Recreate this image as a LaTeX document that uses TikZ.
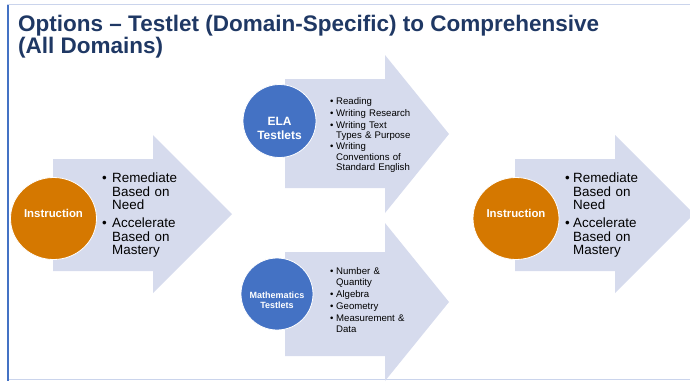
\documentclass[tikz,border=0pt]{standalone}
\usepackage{fontspec}
\setmainfont{Liberation Sans}
\usetikzlibrary{shapes.geometric}
\definecolor{arrowlav}{RGB}{214,219,237}
\definecolor{instrorange}{RGB}{213,120,0}
\definecolor{testblue}{RGB}{68,114,196}
\definecolor{titlenavy}{RGB}{31,56,100}
\definecolor{framelight}{RGB}{202,212,236}
\newlength{\bhang}
\newcommand{\bitem}[1]{\par\hangindent=\bhang\hangafter=1\noindent\makebox[\bhang][l]{\textbullet}#1\par}
\begin{document}
\begin{tikzpicture}[x=1pt,y=-1pt]
    \tikzstyle{arrowbox}=[fill=arrowlav]
    \tikzstyle{instr}=[ellipse,fill=instrorange,draw=white,line width=0.8pt,minimum width=86pt,minimum height=82pt,inner sep=0pt]
    \tikzstyle{testlet}=[circle,fill=testblue,draw=white,line width=0.8pt,minimum size=73pt,inner sep=0pt]
    \tikzstyle{inlabel}=[text=white,font=\bfseries\fontsize{11.4}{13}\selectfont,align=center]
    \tikzstyle{bigtext}=[anchor=north west,inner sep=0pt,text width=95pt,align=left,font=\fontsize{13.4}{13.5}\selectfont]
    \tikzstyle{smalltext}=[anchor=north west,inner sep=0pt,text width=110pt,align=left,font=\fontsize{9.6}{10.3}\selectfont]
    \useasboundingbox (0,0) rectangle (690,381);

    % frame
    \draw[framelight,line width=1.2pt] (7,4.5) -- (690,4.5);
    \draw[framelight,line width=1.5pt] (8,379.5) -- (690,379.5);
    \draw[testblue,line width=2pt] (8,5) -- (8,381);

    \node[anchor=north west,inner sep=0pt,align=left,text=titlenavy,
          font=\bfseries\fontsize{22.5}{22}\selectfont] (title) at (18,14.5)
          {Options -- Testlet (Domain-Specific) to Comprehensive\\(All Domains)};

    % arrows
    \fill[arrowbox] (53,159) -- (153,159) -- (153,135) -- (232,214)
                    -- (153,293) -- (153,271) -- (53,271) -- cycle;
    \fill[arrowbox] (285,79) -- (385,79) -- (385,55) -- (449,134)
                    -- (385,213) -- (385,188) -- (285,188) -- cycle;
    \fill[arrowbox] (285,252) -- (385,252) -- (385,223) -- (449,302)
                    -- (385,381) -- (385,356) -- (285,356) -- cycle;
    \fill[arrowbox] (515,159) -- (615,159) -- (615,135) -- (694,214)
                    -- (615,293) -- (615,271) -- (515,271) -- cycle;

    % circles
    \node[instr,label={[inlabel,yshift=5pt]center:Instruction}] (instrleft) at (53.5,218.5) {};
    \node[instr,label={[inlabel,yshift=5pt]center:Instruction}] (instrright) at (516,218.5) {};
    \node[testlet,label={[inlabel,yshift=-7pt,font=\bfseries\fontsize{12}{14}\selectfont]center:ELA\\Testlets}] (ela) at (279.5,121) {};
    \node[testlet,minimum size=72pt,label={[inlabel,yshift=-6pt,font=\bfseries\fontsize{9}{10}\selectfont]center:Mathematics\\Testlets}] (math) at (277,294) {};

    % lists
    \node[bigtext] (listleft) at (102,164.5) {\setlength{\bhang}{10pt}\setlength{\parskip}{4.5pt}%
        \bitem{Remediate\newline Based on\newline Need}\bitem{Accelerate\newline Based on\newline Mastery}};
    \node[bigtext] (listright) at (565,164.5) {\setlength{\bhang}{8pt}\setlength{\parskip}{4.5pt}%
        \bitem{Remediate\newline Based on\newline Need}\bitem{Accelerate\newline Based on\newline Mastery}};
    \node[smalltext] (listela) at (330,93) {\setlength{\bhang}{6pt}\setlength{\parskip}{1.3pt}%
        \bitem{Reading}\bitem{Writing Research}\bitem{Writing Text\newline Types \& Purpose}%
        \bitem{Writing\newline Conventions of\newline Standard English}};
    \node[smalltext,font=\fontsize{9.6}{10.8}\selectfont] (listmath) at (330,262.5) {\setlength{\bhang}{6pt}\setlength{\parskip}{1.3pt}%
        \bitem{Number \&\newline Quantity}\bitem{Algebra}\bitem{Geometry}\bitem{Measurement \&\newline Data}};

\end{tikzpicture}
\end{document}
